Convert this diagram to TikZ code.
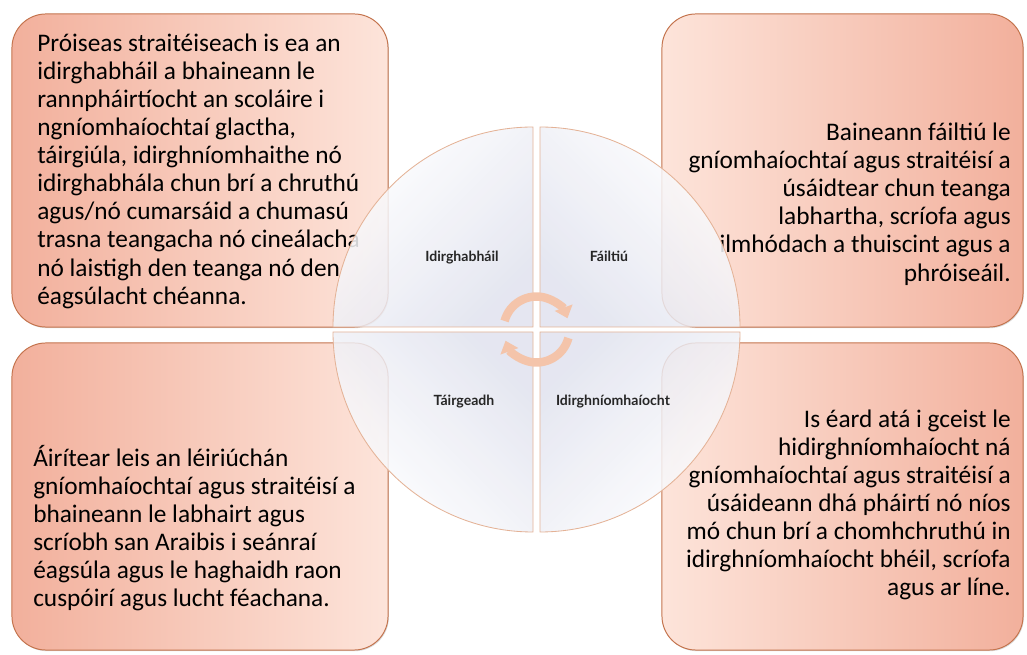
\documentclass[tikz,border=0pt]{standalone}
\usepackage{fontspec}
\setmainfont{Carlito}
\newfontfamily\quadfont{Lato}
\usetikzlibrary{arrows.meta, shadows}

\definecolor{boxdark}{RGB}{242,176,156}
\definecolor{boxlight}{RGB}{253,228,218}
\definecolor{boxline}{RGB}{196,116,78}
\definecolor{pieline}{RGB}{228,178,150}
\definecolor{piegray}{RGB}{224,226,238}
\definecolor{cyclefill}{RGB}{244,196,170}

\begin{document}
\begin{tikzpicture}[x=0.025cm, y=-0.025cm]
  \tikzset{
    infobox/.style={draw=boxline, line width=0.7pt, rounded corners=0.85cm, inner sep=0pt,
      drop shadow={opacity=0.3, shadow xshift=0.6pt, shadow yshift=-0.8pt}},
    bodytext/.style={inner sep=0pt, font=\fontsize{18}{20}\selectfont},
    piece/.style={draw=pieline, line width=0.6pt, fill opacity=0.85,
      top color=white, middle color=white, bottom color=piegray, shading angle=#1},
    quadlabel/.style={font=\quadfont\bfseries\fontsize{10}{12}\selectfont, text=black!85},
    cyclearrow/.style={line width=6pt, draw=cyclefill, -{Triangle[length=8pt, width=13pt]}}
  }
  \useasboundingbox (0,0) rectangle (1027,655);

  % corner boxes
  \node[infobox, minimum width=9.4cm, minimum height=7.825cm, left color=boxdark, right color=boxlight] (boxTL) at (200,170.5) {};
  \node[infobox, minimum width=9.025cm, minimum height=7.825cm, left color=boxlight, right color=boxdark] (boxTR) at (842.5,170.5) {};
  \node[infobox, minimum width=9.4cm, minimum height=7.675cm, left color=boxdark, right color=boxlight] (boxBL) at (200,496.5) {};
  \node[infobox, minimum width=9.025cm, minimum height=7.675cm, left color=boxlight, right color=boxdark] (boxBR) at (842.5,496.5) {};

  \node[bodytext, anchor=west, align=left] (txtTL) at (37,171) {Próiseas straitéiseach is ea an\\
    idirghabháil a bhaineann le\\
    rannpháirtíocht an scoláire i\\
    ngníomhaíochtaí glactha,\\
    táirgiúla, idirghníomhaithe nó\\
    idirghabhála chun brí a chruthú\\
    agus/nó cumarsáid a chumasú\\
    trasna teangacha nó cineálacha\\
    nó laistigh den teanga nó den\\
    éagsúlacht chéanna.};
  \node[bodytext, anchor=east, align=right] (txtTR) at (1011,204) {Baineann fáiltiú le\\
    gníomhaíochtaí agus straitéisí a\\
    úsáidtear chun teanga\\
    labhartha, scríofa agus\\
    ilmhódach a thuiscint agus a\\
    phróiseáil.};
  \node[bodytext, anchor=west, align=left] (txtBL) at (33,528) {Áirítear leis an léiriúchán\\
    gníomhaíochtaí agus straitéisí a\\
    bhaineann le labhairt agus\\
    scríobh san Araibis i seánraí\\
    éagsúla agus le haghaidh raon\\
    cuspóirí agus lucht féachana.};
  \node[bodytext, anchor=east, align=right] (txtBR) at (1011,505) {Is éard atá i gceist le\\
    hidirghníomhaíocht ná\\
    gníomhaíochtaí agus straitéisí a\\
    úsáideann dhá pháirtí nó níos\\
    mó chun brí a chomhchruthú in\\
    idirghníomhaíocht bhéil, scríofa\\
    agus ar líne.};

  % circle in four pieces
  \path[piece=45] (333,327) arc(180:270:200) -- (533,327) -- cycle;
  \path[piece=-45] (540,127) arc(270:360:200) -- (540,327) -- cycle;
  \path[piece=135] (333,332) arc(180:90:200) -- (533,332) -- cycle;
  \path[piece=-135] (740,332) arc(0:90:200) -- (540,332) -- cycle;

  \node[quadlabel] (qTL) at (462,258) {Idirghabháil};
  \node[quadlabel] (qTR) at (609,256) {Fáiltiú};
  \node[quadlabel] (qBL) at (464,402) {Táirgeadh};
  \node[quadlabel] (qBR) at (613,402) {Idirghníomhaíocht};

  % cycle arrows
  \draw[cyclearrow] (504.6,321) arc(195:340:33);
  \draw[cyclearrow] (568.4,338) arc(15:160:33);
\end{tikzpicture}
\end{document}
